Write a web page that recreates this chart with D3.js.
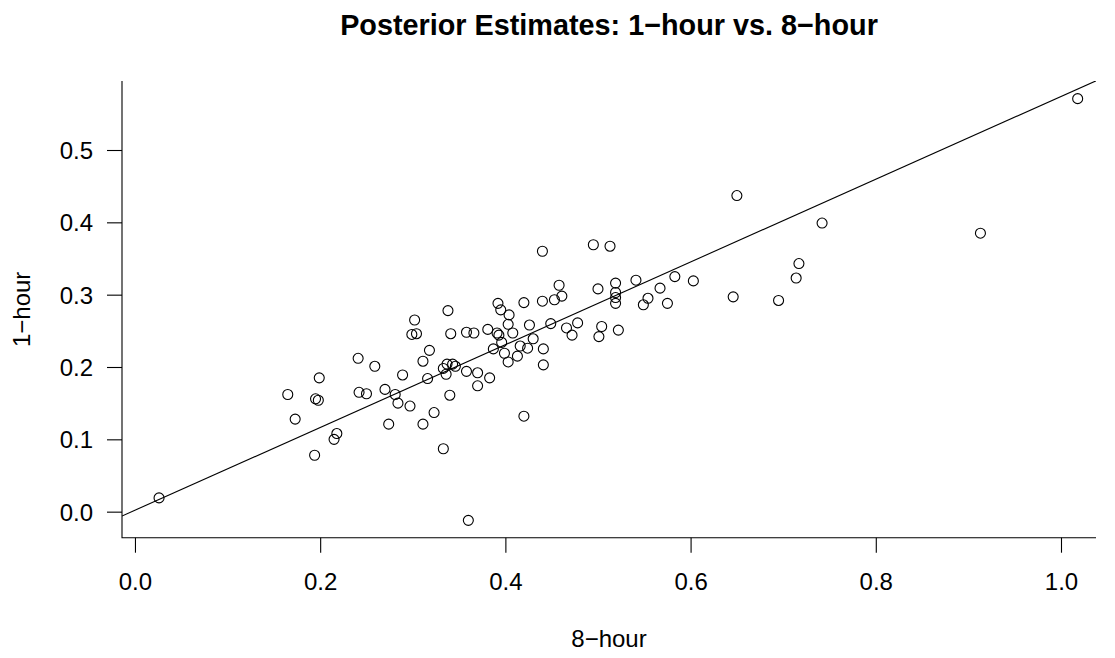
<!DOCTYPE html>
<html>
<head>
<meta charset="utf-8">
<script src="https://cdn.jsdelivr.net/npm/d3@7"></script>
<style>
  html, body { margin: 0; padding: 0; background: #fff; }
  svg { display: block; font-family: "Liberation Sans", Arial, Helvetica, sans-serif; }
</style>
</head>
<body>
<div id="chart"></div>
<script>
(function () {
  'use strict';

  // Posterior estimates: 8-hour (x) vs 1-hour (y)
  var eightHour = [
    0.026, 0.241, 0.259, 0.199, 0.165, 0.195, 0.198, 0.242, 0.250, 0.270,
    0.173, 0.218, 0.215, 0.194, 0.338, 0.302, 0.299, 0.304, 0.341, 0.358,
    0.366, 0.318, 0.311, 0.289, 0.316, 0.333, 0.337, 0.343, 0.346, 0.336,
    0.358, 0.370, 0.370, 0.281, 0.284, 0.297, 0.340, 0.323, 0.274, 0.311,
    0.333, 0.360, 0.440, 0.495, 0.513, 0.458, 0.461, 0.453, 0.440, 0.420,
    0.392, 0.395, 0.404, 0.500, 0.519, 0.519, 0.519, 0.519, 0.541, 0.381,
    0.391, 0.393, 0.403, 0.408, 0.426, 0.449, 0.466, 0.472, 0.478, 0.504,
    0.501, 0.522, 0.387, 0.396, 0.399, 0.416, 0.424, 0.430, 0.441, 0.403,
    0.413, 0.441, 0.383, 0.420, 0.650, 0.742, 0.717, 0.714, 0.583, 0.603,
    0.567, 0.554, 0.549, 0.575, 0.646, 0.695, 1.018, 0.913
  ];
  var oneHour = [
    0.019, 0.212, 0.201, 0.185, 0.162, 0.156, 0.154, 0.165, 0.163, 0.169,
    0.128, 0.108, 0.100, 0.078, 0.278, 0.265, 0.245, 0.246, 0.246, 0.248,
    0.247, 0.223, 0.208, 0.189, 0.184, 0.198, 0.204, 0.204, 0.201, 0.190,
    0.194, 0.192, 0.174, 0.162, 0.150, 0.146, 0.161, 0.137, 0.121, 0.121,
    0.087, -0.012, 0.360, 0.369, 0.367, 0.313, 0.298, 0.293, 0.291, 0.289,
    0.288, 0.279, 0.272, 0.308, 0.316, 0.303, 0.296, 0.288, 0.320, 0.252,
    0.247, 0.244, 0.259, 0.247, 0.258, 0.260, 0.254, 0.244, 0.261, 0.256,
    0.242, 0.251, 0.225, 0.234, 0.219, 0.229, 0.226, 0.239, 0.225, 0.207,
    0.215, 0.203, 0.185, 0.132, 0.437, 0.399, 0.343, 0.323, 0.325, 0.319,
    0.309, 0.295, 0.286, 0.288, 0.297, 0.292, 0.571, 0.385
  ];

  var xTicks = [0, 0.2, 0.4, 0.6, 0.8, 1.0];
  var yTicks = [0, 0.1, 0.2, 0.3, 0.4, 0.5];

  // Fitted line: 1-hour = a + b * 8-hour
  var lineIntercept = 0.002;
  var lineSlope = 0.572;

  var titleText = 'Posterior Estimates: 1\u2212hour vs. 8\u2212hour';
  var xLabel = '8\u2212hour';
  var yLabel = '1\u2212hour';

  var width = 1115, height = 658;
  var plot = { left: 122, right: 1096, top: 81, bottom: 537.7 };
  var fontSize = 24;

  var svg = d3.select('#chart').append('svg')
    .attr('width', width)
    .attr('height', height)
    .attr('viewBox', [0, 0, width, height]);

  var x = d3.scaleLinear().domain([-0.014, 1.0378]).range([plot.left, plot.right]);
  var y = d3.scaleLinear().domain([-0.036, 0.5954]).range([plot.bottom, plot.top]);

  // L-shaped box
  svg.append('path')
    .attr('d', 'M' + plot.left + ',' + plot.top + 'V' + plot.bottom + 'H' + plot.right)
    .attr('fill', 'none')
    .attr('stroke', '#000')
    .attr('stroke-width', 1.1);

  // x axis
  var xAxis = svg.append('g')
    .attr('transform', 'translate(0,' + plot.bottom + ')')
    .call(d3.axisBottom(x).tickValues(xTicks).tickSize(15).tickSizeOuter(0)
      .tickFormat(d3.format('.1f')));
  xAxis.select('.domain').remove();
  xAxis.selectAll('.tick line').attr('stroke', '#000').attr('stroke-width', 1.1);
  xAxis.selectAll('.tick text')
    .attr('y', 52.3).attr('dy', null)
    .attr('fill', '#000')
    .attr('font-size', fontSize)
    .attr('font-family', null);
  xAxis.attr('font-family', null).attr('font-size', null);

  // y axis
  var yAxis = svg.append('g')
    .attr('transform', 'translate(' + plot.left + ',0)')
    .call(d3.axisLeft(y).tickValues(yTicks).tickSize(15).tickSizeOuter(0)
      .tickFormat(d3.format('.1f')));
  yAxis.select('.domain').remove();
  yAxis.selectAll('.tick line').attr('stroke', '#000').attr('stroke-width', 1.1);
  yAxis.selectAll('.tick text')
    .attr('x', -29).attr('dy', '0.35em')
    .attr('fill', '#000')
    .attr('font-size', fontSize);
  yAxis.attr('font-family', null).attr('font-size', null);

  // fitted line, clipped to plot region
  svg.append('clipPath').attr('id', 'plot-clip')
    .append('rect')
    .attr('x', plot.left).attr('y', plot.top)
    .attr('width', plot.right - plot.left)
    .attr('height', plot.bottom - plot.top);

  var xd = x.domain();
  svg.append('line')
    .attr('clip-path', 'url(#plot-clip)')
    .attr('x1', x(xd[0])).attr('y1', y(lineIntercept + lineSlope * xd[0]))
    .attr('x2', x(xd[1])).attr('y2', y(lineIntercept + lineSlope * xd[1]))
    .attr('stroke', '#000')
    .attr('stroke-width', 1.1);

  // points
  svg.append('g')
    .selectAll('circle')
    .data(eightHour)
    .join('circle')
    .attr('cx', function (d) { return x(d); })
    .attr('cy', function (d, i) { return y(oneHour[i]); })
    .attr('r', 5)
    .attr('fill', 'none')
    .attr('stroke', '#000')
    .attr('stroke-width', 1.1);

  // title and axis labels
  svg.append('text')
    .attr('x', (plot.left + plot.right) / 2)
    .attr('y', 35)
    .attr('text-anchor', 'middle')
    .attr('font-size', fontSize * 1.2)
    .attr('font-weight', 'bold')
    .text(titleText);

  svg.append('text')
    .attr('x', (plot.left + plot.right) / 2)
    .attr('y', 647)
    .attr('text-anchor', 'middle')
    .attr('font-size', fontSize)
    .text(xLabel);

  svg.append('text')
    .attr('transform', 'translate(30,' + ((plot.top + plot.bottom) / 2) + ') rotate(-90)')
    .attr('text-anchor', 'middle')
    .attr('font-size', fontSize)
    .text(yLabel);
})();
</script>
</body>
</html>
